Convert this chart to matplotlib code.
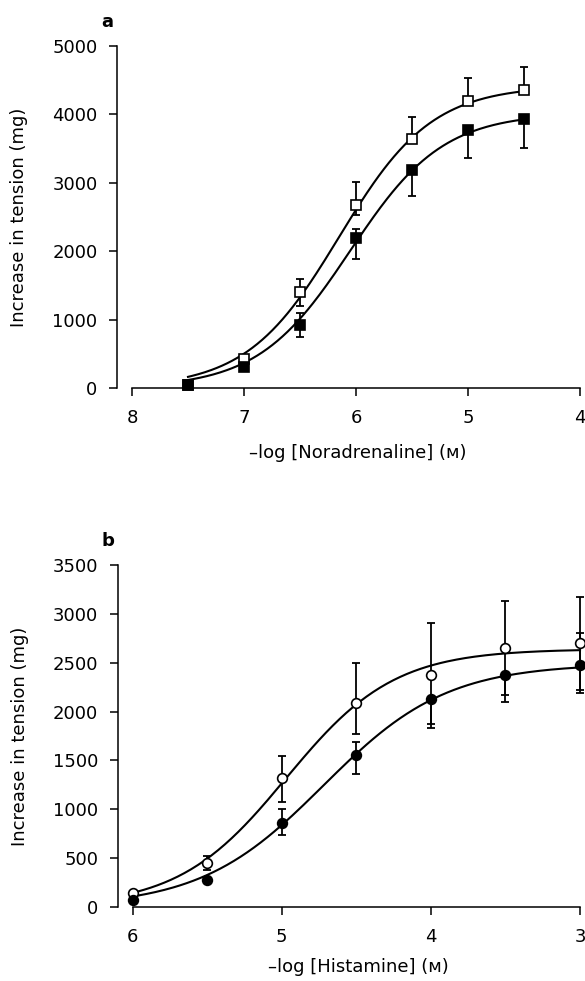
import numpy as np
import matplotlib
matplotlib.use("Agg")
import matplotlib.pyplot as plt

plt.rcParams['font.family'] = ['DejaVu Sans']
plt.rcParams['font.size'] = 13

# ---- Panel a: noradrenaline ----
x_a = [7.5, 7.0, 6.5, 6.0, 5.5, 5.0, 4.5]
open_a = [50, 420, 1400, 2675, 3640, 4200, 4360]
open_a_up = [0, 30, 190, 340, 320, 330, 340]
open_a_dn = [0, 30, 200, 150, 0, 0, 0]
filled_a = [50, 300, 920, 2190, 3190, 3770, 3930]
filled_a_up = [0, 0, 175, 130, 0, 0, 0]
filled_a_dn = [0, 0, 175, 310, 380, 410, 420]
# fitted curve parameters (Emax, pEC50, Hill slope)
fit_open_a = (4420, 6.15, 1.05)
fit_filled_a = (4020, 6.05, 1.05)
xticks_a = [8, 7, 6, 5, 4]
yticks_a = [0, 1000, 2000, 3000, 4000, 5000]

# ---- Panel b: histamine ----
x_b = [6.0, 5.5, 5.0, 4.5, 4.0, 3.5, 3.0]
open_b = [140, 450, 1320, 2090, 2370, 2650, 2700]
open_b_up = [0, 70, 230, 410, 540, 480, 473]
open_b_dn = [0, 70, 245, 320, 497, 480, 480]
filled_b = [70, 280, 860, 1556, 2130, 2375, 2480]
filled_b_up = [0, 0, 145, 135, 0, 0, 325]
filled_b_dn = [0, 0, 125, 195, 300, 277, 290]
fit_open_b = (2640, 4.97, 1.2)
fit_filled_b = (2490, 4.72, 1.05)
xticks_b = [6, 5, 4, 3]
yticks_b = [0, 500, 1000, 1500, 2000, 2500, 3000, 3500]


def hill(x, emax, p, n):
    x = np.asarray(x)
    return emax / (1.0 + 10 ** (n * (x - p)))


W, H = 585, 981
fig = plt.figure(figsize=(W / 100, H / 100), dpi=100)


def make_axes(px_left, px_right, px_top, px_bottom):
    return fig.add_axes([px_left / W, 1 - px_bottom / H,
                         (px_right - px_left) / W, (px_bottom - px_top) / H])


def style(ax, xlim, ylim, xticks, yticks, xlabel, letter, xlab_y):
    ax.set_xlim(*xlim)
    ax.set_ylim(*ylim)
    ax.set_xticks(xticks)
    ax.set_yticks(yticks)
    for s in ['top', 'right']:
        ax.spines[s].set_visible(False)
    for s in ['left', 'bottom']:
        ax.spines[s].set_linewidth(1.1)
    ax.spines['left'].set_position(('outward', 10.8))
    ax.tick_params(axis='both', direction='out', length=6, width=1.1,
                   labelsize=13, colors='black')
    ax.tick_params(axis='y', pad=8)
    ax.tick_params(axis='x', pad=9)
    ax.set_ylabel('Increase in tension (mg)', fontsize=13)
    ax.yaxis.set_label_coords(-0.232, 0.5)
    ax.set_xlabel(xlabel, fontsize=13)
    ax.xaxis.set_label_coords(0.504, xlab_y)
    ax.text(-0.056, 1.07, letter, transform=ax.transAxes, fontsize=13,
            fontweight='bold', ha='center', va='center')


def draw(ax, x, o, ou, od, f, fu, fd, fo, ff, marker):
    xs = np.linspace(min(x), max(x), 200)
    ax.plot(xs, hill(xs, *fo), color='black', lw=1.5, zorder=2, clip_on=False)
    ax.plot(xs, hill(xs, *ff), color='black', lw=1.5, zorder=2, clip_on=False)
    ax.errorbar(x, o, yerr=[od, ou], fmt='none', ecolor='black',
                elinewidth=1.3, capsize=3, capthick=1.3, zorder=3, clip_on=False)
    ax.errorbar(x, f, yerr=[fd, fu], fmt='none', ecolor='black',
                elinewidth=1.3, capsize=3, capthick=1.3, zorder=3, clip_on=False)
    ax.plot(x, o, linestyle='none', marker=marker, ms=7, mfc='white',
            mec='black', mew=1.2, zorder=4, clip_on=False)
    ax.plot(x, f, linestyle='none', marker=marker, ms=7, mfc='black',
            mec='black', mew=1.2, zorder=5, clip_on=False)


ax_a = make_axes(132, 580, 46, 388)
draw(ax_a, x_a, open_a, open_a_up, open_a_dn, filled_a, filled_a_up,
     filled_a_dn, fit_open_a, fit_filled_a, 's')
style(ax_a, (8, 4), (0, 5000), xticks_a, yticks_a,
      '–log [Noradrenaline] (ᴍ)', 'a', -0.163)

ax_b = make_axes(132.7, 580, 565, 907)
draw(ax_b, x_b, open_b, open_b_up, open_b_dn, filled_b, filled_b_up,
     filled_b_dn, fit_open_b, fit_filled_b, 'o')
style(ax_b, (6, 3), (0, 3500), xticks_b, yticks_b,
      '–log [Histamine] (ᴍ)', 'b', -0.148)

fig.savefig('out.png', dpi=100)
